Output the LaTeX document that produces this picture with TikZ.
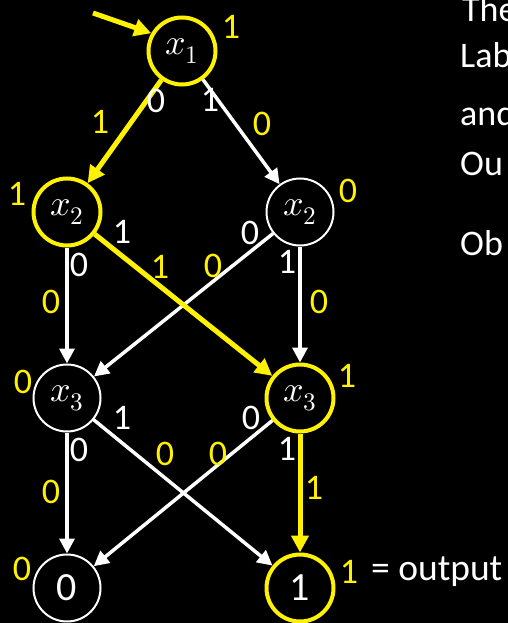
\documentclass[tikz,border=0pt]{standalone}
\usepackage{fontspec}
\usepackage{unicode-math}
\setmainfont{Carlito}
\setmathfont{Latin Modern Math}
\usetikzlibrary{arrows.meta}
\begin{document}
\begin{tikzpicture}[x=1pt,y=-1pt,
  vnode/.style={circle, draw=white, line width=2pt, minimum size=67pt, inner sep=0pt, text=white, font=\fontsize{36}{40}\selectfont},
  termnode/.style={vnode, font=\fontsize{40}{44}\selectfont},
  hot/.style={draw=yellow, line width=4pt},
  wedge/.style={draw=white, line width=3.5pt, -{Triangle[length=15pt,width=15pt]}},
  yedge/.style={draw=yellow, line width=5pt, -{Triangle[length=17pt,width=17pt]}},
  ylab/.style={text=yellow, inner sep=0pt, font=\fontsize{36}{40}\selectfont},
  wlab/.style={text=white, inner sep=0pt, font=\fontsize{36}{40}\selectfont},
  rtext/.style={text=white, inner sep=0pt, anchor=base west, font=\fontsize{36}{40}\selectfont},
]
\fill[black] (0,0) rectangle (508,623);
\useasboundingbox (0,0) rectangle (508,623);
\clip (0,0) rectangle (508,623);

% nodes
\node[vnode,hot] (x1) at (182,51) {$x_1$};
\node[vnode,hot] (x2l) at (67,212) {$x_2$};
\node[vnode] (x2r) at (300,212) {$x_2$};
\node[vnode] (x3l) at (67,398) {$x_3$};
\node[vnode,hot] (x3r) at (300,398) {$x_3$};
\node[termnode] (t0) at (67,588) {0};
\node[termnode,hot] (t1) at (300,588) {1};

% connectors
\coordinate (in) at (93,13);
\draw[yedge] (in) -- (x1.150);
\draw[yedge] (x1) -- (x2l);
\draw[wedge] (x1) -- (x2r);
\draw[wedge] (x2l) -- (x3l);
\draw[wedge] (x2r) -- (x3l);
\draw[wedge] (x2r) -- (x3r);
\draw[yedge] (x2l) -- (x3r);
\draw[wedge] (x3l) -- (t0);
\draw[wedge] (x3l) -- (t1);
\draw[wedge] (x3r) -- (t0);
\draw[yedge] (x3r) -- (t1);

% labels
\node[ylab] (v1) at (231,27) {1};
\node[wlab] (a0) at (156,101) {0};
\node[wlab] (a1) at (210,100) {1};
\node[ylab] (e1) at (100,122) {1};
\node[ylab] (e2) at (262,124) {0};
\node[ylab] (v2) at (17,194) {1};
\node[ylab] (v3) at (348,191) {0};
\node[wlab] (b1) at (122,232) {1};
\node[wlab] (b0) at (79,265) {0};
\node[ylab] (e3) at (160,267) {1};
\node[ylab] (e4) at (213,266) {0};
\node[wlab] (c0) at (250,233) {0};
\node[wlab] (c1) at (287,262) {1};
\node[ylab] (e5) at (51,302) {0};
\node[ylab] (e6) at (319,302) {0};
\node[ylab] (v4) at (23,382) {0};
\node[ylab] (v5) at (347,376) {1};
\node[wlab] (d1) at (122,418) {1};
\node[wlab] (d0) at (79,450) {0};
\node[ylab] (e7) at (165,454) {0};
\node[ylab] (e8) at (218,454) {0};
\node[wlab] (f0) at (251,418) {0};
\node[wlab] (f1) at (287,449) {1};
\node[ylab] (e9) at (51,492) {0};
\node[ylab] (e10) at (314,488) {1};
\node[ylab] (v6) at (22,569) {0};
\node[ylab] (v7) at (349,572) {1};
\node[rtext, font=\fontsize{37.5}{40}\selectfont] (out) at (371,580) {= output};

% cut-off text at right
\node[rtext] (r1) at (462,22) {The};
\node[rtext] (r2) at (460,68) {Lab};
\node[rtext] (r3) at (460,125) {and};
\node[rtext] (r4) at (460,175) {Ou};
\node[rtext] (r5) at (460,255) {Ob};
\end{tikzpicture}
\end{document}
